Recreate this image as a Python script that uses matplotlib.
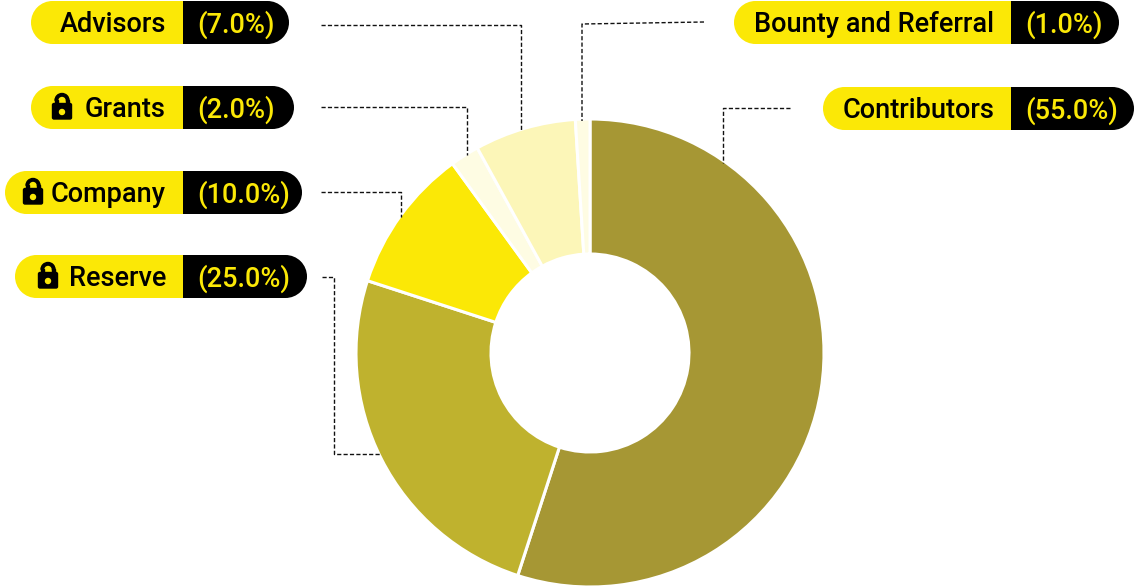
import matplotlib
matplotlib.use("Agg")
import matplotlib.pyplot as plt
from matplotlib.patches import FancyBboxPatch, Rectangle, Circle, Wedge

categories = ["Contributors", "Reserve", "Company", "Grants", "Advisors", "Bounty and Referral"]
shares = [55.0, 25.0, 10.0, 2.0, 7.0, 1.0]
locked = [False, True, True, True, False, False]

slice_colors = ["#A69734", "#BFB22E", "#FBE806", "#FEFCE3", "#FCF6B8", "#FEFCE3"]
YELLOW, BLACK = "#FBE806", "#000000"

# pill layout: left, right, top, split; leader polylines
pills = {
    "Contributors": (823, 1134, 87, 1011),
    "Reserve": (15, 307, 255, 183),
    "Company": (5, 302, 171, 183),
    "Grants": (31, 294, 86, 183),
    "Advisors": (31, 289, 1, 183),
    "Bounty and Referral": (734, 1119, 1, 1011),
}
lock_x = {"Reserve": 48, "Company": 33, "Grants": 62}
leaders = {
    "Contributors": [(790, 108), (723, 108), (723, 163)],
    "Reserve": [(322, 277), (334, 277), (334, 454), (380, 454)],
    "Company": [(321, 192), (401, 192), (401, 217)],
    "Grants": [(321, 107), (467, 107), (467, 155)],
    "Advisors": [(321, 25), (521, 25), (521, 130)],
    "Bounty and Referral": [(704, 22), (582, 24), (582, 121)],
}
PILL_H = 43
FONT = "Roboto"

fig = plt.figure(figsize=(11.34, 5.86), dpi=100)
ax = fig.add_axes([0, 0, 1, 1])

ax.pie(shares, colors=slice_colors, startangle=-90, counterclock=True,
       center=(590, 353), radius=234,
       wedgeprops=dict(width=135, edgecolor="white", linewidth=2.2))
ax.set_xlim(0, 1134)
ax.set_ylim(586, 0)
ax.set_aspect("equal")
ax.axis("off")


def lock(cx, cy):
    ax.add_patch(Wedge((cx, cy - 7), 7, 180, 360, width=2.6, color=BLACK, zorder=6))
    ax.add_patch(Rectangle((cx - 7, cy - 7.5), 2.6, 4, color=BLACK, zorder=6))
    ax.add_patch(Rectangle((cx + 4.4, cy - 7.5), 2.6, 4, color=BLACK, zorder=6))
    ax.add_patch(FancyBboxPatch((cx - 9.5, cy - 4), 19, 15.5, boxstyle="round,pad=0,rounding_size=1.5",
                                fc=BLACK, ec=BLACK, lw=1, zorder=6))
    ax.add_patch(Circle((cx, cy + 4.5), 2.5, color=YELLOW, zorder=7))


for name, value, is_locked in zip(categories, shares, locked):
    left, right, top, split = pills[name]
    r = PILL_H / 2
    cy = top + r
    ax.add_patch(Circle((left + r, cy), r, fc=YELLOW, lw=0, zorder=3))
    ax.add_patch(Rectangle((left + r, top), split - left - r, PILL_H, fc=YELLOW, lw=0, zorder=3))
    ax.add_patch(Circle((right - r, cy), r, fc=BLACK, lw=0, zorder=3))
    ax.add_patch(Rectangle((split, top), right - r - split, PILL_H, fc=BLACK, lw=0, zorder=3))
    ax.text(split - 17, cy - 1, name, ha="right", va="center_baseline", fontsize=19.5,
            fontfamily=FONT, fontweight="medium", color=BLACK, zorder=6)
    ax.text(split + 14, cy - 1, f"({value:.1f}%)", ha="left", va="center_baseline", fontsize=19.5,
            fontfamily=FONT, fontweight="medium", color=YELLOW, zorder=6)
    if is_locked:
        lock(lock_x[name], cy)
    xs, ys = zip(*leaders[name])
    ax.plot(xs, ys, color="#111111", lw=1, ls=(0, (3, 1.6)), zorder=2, solid_capstyle="butt")

fig.savefig("out.png", dpi=100, facecolor="white")
